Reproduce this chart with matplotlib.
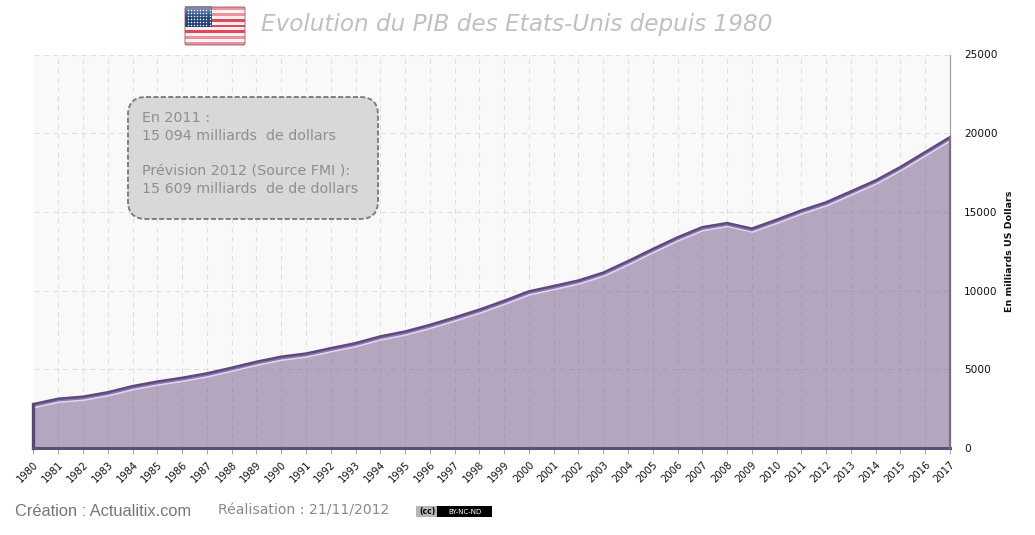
import matplotlib
matplotlib.use("Agg")
import matplotlib.pyplot as plt
import matplotlib.patheffects as pe
from matplotlib.patches import FancyBboxPatch, Rectangle
import numpy as np

years = list(range(1980, 2018))
gdp = [2790, 3130, 3260, 3540, 3930, 4220, 4460, 4740, 5100, 5480,
       5800, 6000, 6340, 6660, 7090, 7400, 7820, 8290, 8790, 9350,
       9950, 10290, 10640, 11140, 11870, 12640, 13380, 14030, 14290, 13940,
       14500, 15094, 15609, 16300, 17000, 17850, 18800, 19750]
yticks = [0, 5000, 10000, 15000, 20000, 25000]
title = "Evolution du PIB des Etats-Unis depuis 1980"
ylabel = "En milliards US Dollars"
note = ["En 2011 :", "15 094 milliards  de dollars", "",
        "Prévision 2012 (Source FMI ):", "15 609 milliards  de de dollars"]

W, H = 1035, 535
fig = plt.figure(figsize=(W/100, H/100), dpi=100, facecolor="white")
def rect(x0, y0, x1, y1):
    return [x0/W, 1-y1/H, (x1-x0)/W, (y1-y0)/H]

ax = fig.add_axes(rect(33.5, 54.5, 950, 448))
ax.set_facecolor("#f9f9f9")
ax.set_xlim(years[0], years[-1])
ax.set_ylim(0, 25000)
ax.set_axisbelow(True)
ax.grid(True, color="#e0e0e0", ls=(0, (5, 4)), lw=0.75)
ax.fill_between(years, gdp, 0, color="#715587", alpha=0.5, lw=0, zorder=3)
line, = ax.plot(years, gdp, color="#5f4a80", lw=1.8, zorder=4, solid_capstyle="butt",
                solid_joinstyle="round")
line.set_path_effects([
    pe.Stroke(linewidth=1.3, foreground="#e2d5f2", offset=(0.6, -2.4)),
    pe.Stroke(linewidth=1.6, foreground="#8f78ad", offset=(0, -1.2)),
    pe.Normal(),
])
ax.plot([years[0], years[0]], [0, gdp[0]], color="#5a4478", lw=2.4, zorder=4, clip_on=False)
ax.plot([years[0], years[-1]], [0, 0], color="#5f4f78", lw=2.2, zorder=4, clip_on=False)
ax.plot([years[-1], years[-1]], [0, gdp[-1]], color="#7c6f8c", lw=1.6, zorder=4, clip_on=False)

for s in ["top", "left", "bottom"]:
    ax.spines[s].set_visible(False)
ax.spines["right"].set_color("#999999")
ax.yaxis.tick_right()
ax.set_yticks(yticks)
ax.set_xticks(years)
ax.set_xticklabels(years, rotation=45, ha="right", rotation_mode="anchor", fontsize=7.2, color="#111111")
ax.tick_params(axis="x", length=4, width=0.8, color="#aaaaaa", pad=4)
ax.tick_params(axis="y", length=0, pad=10, labelsize=7.6, labelcolor="#111111")
fig.text(1010/W, 1-251/H, ylabel, rotation=90, ha="center", va="center", fontsize=6.8,
         fontweight="bold", color="#111111")

fig.text(261/W, 1-25/H, title, ha="left", va="center", fontsize=16.65, style="italic", color="#c0c0c0")

ov = fig.add_axes([0, 0, 1, 1], facecolor="none", zorder=5)
ov.set_xlim(0, W); ov.set_ylim(H, 0); ov.axis("off")
# annotation box
ov.add_patch(FancyBboxPatch((128+18, 97+18), 250-36, 122-36, boxstyle="round,pad=18,rounding_size=18",
             fc="#d8d8d8", ec="#7f7f7f", lw=1.4, ls=(0, (2.6, 1.2))))
for i, t in enumerate(note):
    if t:
        ov.text(142, 118.5 + i*17.6, t, fontsize=10.3, color="#8f8f8f", va="center", ha="left")

# flag
fx0, fx1, fy0, fy1 = 185, 245, 7, 45
sh = (fy1-fy0)/13
for i in range(13):
    if i < 3 or i >= 10:
        c = "#e8939d" if i % 2 == 0 else "#fdf5f5"
    else:
        c = "#df4a5a" if i % 2 == 0 else "#fbeeee"
    ov.add_patch(Rectangle((fx0, fy0+i*sh), fx1-fx0, sh, fc=c, ec="none"))
canton = np.linspace(0, 1, 20)[:, None]
ov.imshow(canton, extent=(fx0, fx0+27, fy0+7*sh, fy0), aspect="auto", zorder=1.5,
          cmap=matplotlib.colors.LinearSegmentedColormap.from_list("c", ["#8ea0bf", "#254680", "#1f3f78"]))
ov.set_xlim(0, W); ov.set_ylim(H, 0)
sx = np.linspace(fx0+2.5, fx0+24.5, 8)
sy = np.linspace(fy0+2.5, fy0+7*sh-2.5, 6)
ov.scatter(*np.meshgrid(sx, sy), s=1.1, c="white", lw=0, zorder=2)
ov.add_patch(FancyBboxPatch((fx0+1, fy0+1), fx1-fx0-2, fy1-fy0-2, boxstyle="round,pad=1,rounding_size=1.5",
                            fc="none", ec="#a05560", lw=0.6, zorder=3))

# footer
ov.text(15, 511, "Création : Actualitix.com", fontsize=11.8, color="#777777", family="Liberation Sans",
        va="center", ha="left")
ov.text(218, 511, "Réalisation : 21/11/2012", fontsize=10.1, color="#8a8a8a", va="center", ha="left")
ov.add_patch(Rectangle((416, 506), 76, 11, fc="black", ec="none"))
ov.add_patch(Rectangle((416, 506), 21, 11, fc="#b5b5b5", ec="none"))
ov.text(427, 511.5, "(cc)", fontsize=5.5, fontweight="bold", color="black", va="center", ha="center")
ov.text(465, 511.5, "BY-NC-ND", fontsize=5, color="white", va="center", ha="center")

fig.savefig("out.png", dpi=100)
